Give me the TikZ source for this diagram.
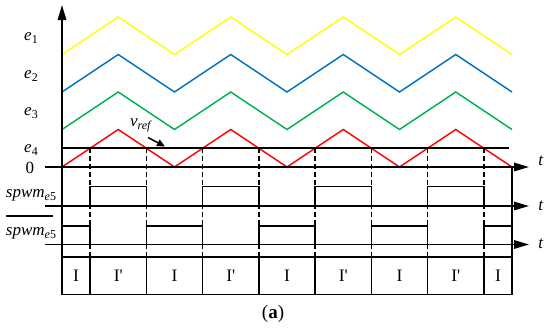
\documentclass[tikz,border=0pt]{standalone}
\usepackage{fontspec}
\setmainfont{Liberation Serif}
\usetikzlibrary{arrows.meta}
\definecolor{wyel}{RGB}{255,255,0}
\definecolor{wblue}{RGB}{0,112,192}
\definecolor{wgreen}{RGB}{0,176,80}
\definecolor{wred}{RGB}{255,0,0}
\newcommand{\sbs}[1]{\raisebox{-0.4ex}{\fontsize{12}{12}\selectfont #1}}
\tikzset{
  ln/.style={line width=1.6pt, black},
  wave/.style={line width=1.4pt, line join=miter},
  axarrow/.style={ln, -{Triangle[length=15pt,width=8.5pt]}},
  dsh/.style={ln, dash pattern=on 5pt off 3pt},
  lbl/.style={inner sep=0pt, font=\fontsize{17}{20}\selectfont},
  boxlbl/.style={inner sep=0pt, font=\fontsize{17.5}{20}\selectfont},
}
\begin{document}
\begin{tikzpicture}[x=1pt,y=-1pt]
\useasboundingbox (0,0) rectangle (550,330);
% triangle waves
\draw[wave, wyel]   (62,54.5) -- (118.25,17) -- (174.5,54.5) -- (230.75,17) -- (287,54.5) -- (343.25,17) -- (399.5,54.5) -- (455.75,17) -- (512,54.5);
\draw[wave, wblue]  (62,92) -- (118.25,54.5) -- (174.5,92) -- (230.75,54.5) -- (287,92) -- (343.25,54.5) -- (399.5,92) -- (455.75,54.5) -- (512,92);
\draw[wave, wgreen] (62,129.5) -- (118.25,92) -- (174.5,129.5) -- (230.75,92) -- (287,129.5) -- (343.25,92) -- (399.5,129.5) -- (455.75,92) -- (512,129.5);
\draw[wave, wred]   (62,167) -- (118.25,129.5) -- (174.5,167) -- (230.75,129.5) -- (287,167) -- (343.25,129.5) -- (399.5,167) -- (455.75,129.5) -- (512,167);
% e4 level
\draw[ln] (62,148.25) -- (509,148.25);
% dashed verticals
\foreach \c in {90.125,146.375,202.625,258.875,315.125,371.375,427.625,483.875}
  \draw[dsh] (\c,148.25) -- (\c,256.7);
% spwm e5
\draw[ln] (90.125,206) -- (90.125,186.5) -- (146.375,186.5) -- (146.375,206);
\draw[ln] (202.625,206) -- (202.625,186.5) -- (258.875,186.5) -- (258.875,206);
\draw[ln] (315.125,206) -- (315.125,186.5) -- (371.375,186.5) -- (371.375,206);
\draw[ln] (427.625,206) -- (427.625,186.5) -- (483.875,186.5) -- (483.875,206);
% spwm bar
\draw[ln] (62,225.7) -- (90.125,225.7) -- (90.125,244.5);
\draw[ln] (146.375,244.5) -- (146.375,225.7) -- (202.625,225.7) -- (202.625,244.5);
\draw[ln] (258.875,244.5) -- (258.875,225.7) -- (315.125,225.7) -- (315.125,244.5);
\draw[ln] (371.375,244.5) -- (371.375,225.7) -- (427.625,225.7) -- (427.625,244.5);
\draw[ln] (483.875,244.5) -- (483.875,225.7) -- (512,225.7);
% right edge
\draw[ln] (512,167) -- (512,294.3);
% box
\draw[ln] (62,256.7) rectangle (512,294.3);
\foreach \c in {90.125,146.375,202.625,258.875,315.125,371.375,427.625,483.875}
  \draw[ln] (\c,256.7) -- (\c,294.3);
% axes
\draw[axarrow] (62,294.3) -- (62,5);
\draw[axarrow] (45,167) -- (529,167);
\draw[axarrow] (45,206) -- (529,206);
\draw[axarrow] (45,244.5) -- (529,244.5);
% labels
\node[lbl] (e1) at (31,38) {\textit{e}\sbs{1}};
\node[lbl] (e2) at (31,76) {\textit{e}\sbs{2}};
\node[lbl] (e3) at (31,113) {\textit{e}\sbs{3}};
\node[lbl] (e4) at (31,150) {\textit{e}\sbs{4}};
\node[lbl] (zero) at (30,168) {0};
\node[lbl] (sp) at (31,195) {\textit{spwm}\sbs{\textit{e}5}};
\node[lbl] (spb) at (31,233) {\textit{spwm}\sbs{\textit{e}5}};
\draw[line width=1.2pt] (6,216) -- (53,216);
\node[lbl] (t1) at (541,161) {\textit{t}};
\node[lbl] (t2) at (541,206) {\textit{t}};
\node[lbl] (t3) at (541,244) {\textit{t}};
\node[lbl] (vref) at (141,125) {\textit{v}\sbs{\textit{ref}}};
\coordinate (vtip) at (165,146.5);
\draw[line width=1.5pt, -{Triangle[length=8pt,width=7pt]}] (148,137.5) -- (vtip);
% box labels
\node[boxlbl] (b1) at (76.06,276) {I};
\node[boxlbl] (b2) at (118.25,276) {I\textquotesingle};
\node[boxlbl] (b3) at (174.5,276) {I};
\node[boxlbl] (b4) at (230.75,276) {I\textquotesingle};
\node[boxlbl] (b5) at (287,276) {I};
\node[boxlbl] (b6) at (343.25,276) {I\textquotesingle};
\node[boxlbl] (b7) at (399.5,276) {I};
\node[boxlbl] (b8) at (455.75,276) {I\textquotesingle};
\node[boxlbl] (b9) at (497.94,276) {I};
\node[inner sep=0pt, font=\fontsize{19}{22}\selectfont] (cap) at (273,314) {(\textbf{a})};
\end{tikzpicture}
\end{document}
